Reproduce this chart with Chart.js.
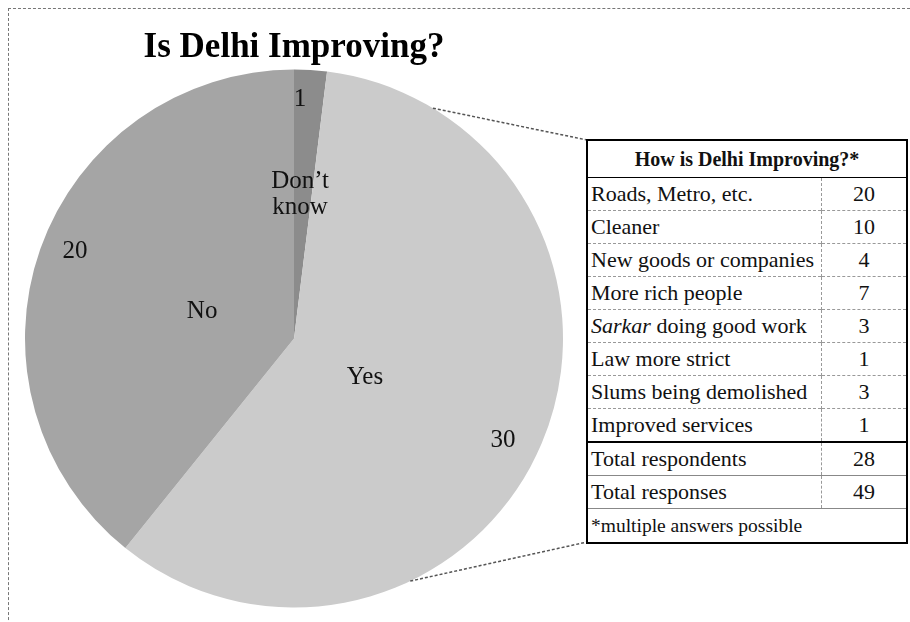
<!DOCTYPE html>
<html>
<head>
<meta charset="utf-8">
<script src="https://cdn.jsdelivr.net/npm/chart.js@4"></script>
<style>
  html, body { margin: 0; padding: 0; background: #fff; }
  #wrap { position: relative; width: 910px; height: 622px; overflow: hidden; }
  #frame { position: absolute; left: 8px; top: 8px; width: 920px; height: 640px; border: 1px dashed #777; }
  #pie { position: absolute; left: 0; top: 0; }
  #reasons {
    position: absolute; left: 586px; top: 139px; width: 322px;
    border-collapse: collapse; border: 2px solid #000;
    color: #111; background: #fff;
  }
  #reasons th, #reasons td { font-family: 'Liberation Serif', serif; }
  #reasons th { font-weight: bold; font-size: 20px; height: 34px; border-bottom: 1px solid #000; text-align: center; }
  #reasons td { font-size: 22px; height: 32px; padding: 0 0 0 3px; border-top: 1px dashed #999; white-space: nowrap; }
  #reasons td.n { text-align: center; width: 84px; padding: 0; border-left: 1px dashed #999; }
  #reasons tr.first td { border-top: 1px solid #000; }
  #reasons tr.tot td { border-top: 1px solid #888; }
  #reasons tr.tot.first td { border-top: 2px solid #000; }
  #reasons td.note { font-size: 19.5px; height: 33px; border-top: 1px solid #888; }
</style>
</head>
<body>
<div id="wrap">
  <div id="frame"></div>
  <canvas id="pie" width="910" height="622"></canvas>
  <table id="reasons"></table>
</div>
<script>
// pie
const answers = ['Don’t know', 'Yes', 'No'];
const answerCounts = [1, 30, 20];
const answerColors = ['#8c8c8c', '#cbcbcb', '#a5a5a5'];

// table
const tableTitle = 'How is Delhi Improving?*';
const reasons = ['Roads, Metro, etc.', 'Cleaner', 'New goods or companies', 'More rich people',
  'Sarkar doing good work', 'Law more strict', 'Slums being demolished', 'Improved services'];
const reasonCounts = [20, 10, 4, 7, 3, 1, 3, 1];
const totalLabels = ['Total respondents', 'Total responses'];
const totalCounts = [28, 49];
const footnote = '*multiple answers possible';

// build the table
const table = document.getElementById('reasons');
let html = `<tr><th colspan="2">${tableTitle}</th></tr>`;
reasons.forEach((r, i) => {
  const txt = r.startsWith('Sarkar') ? '<i>Sarkar</i>' + r.slice(6) : r;
  html += `<tr class="${i === 0 ? 'first' : ''}"><td>${txt}</td><td class="n">${reasonCounts[i]}</td></tr>`;
});
totalLabels.forEach((t, i) => {
  html += `<tr class="tot ${i === 0 ? 'first' : ''}"><td>${t}</td><td class="n">${totalCounts[i]}</td></tr>`;
});
html += `<tr><td class="note" colspan="2">${footnote}</td></tr>`;
table.innerHTML = html;

const serif = "'Liberation Serif', serif";

// label placement inside the slices: radius fraction and angle nudge (deg)
const labelStyle = [
  { valueR: 0.889, valueA: -2.1, nameR: 0.536, nameA: -1.1, wrap: true },
  { valueR: 0.865, valueA: 3.1, nameR: 0.301, nameA: 5.9 },
  { valueR: 0.876, valueA: 2.3, nameR: 0.356, nameA: -3.0 }
];

const sliceLabels = {
  id: 'sliceLabels',
  afterDatasetsDraw(chart) {
    const ctx = chart.ctx;
    const meta = chart.getDatasetMeta(0);
    ctx.save();
    ctx.fillStyle = '#111';
    ctx.font = '25px ' + serif;
    ctx.textAlign = 'center';
    ctx.textBaseline = 'middle';
    meta.data.forEach((arc, i) => {
      const p = arc.getProps(['x', 'y', 'startAngle', 'endAngle', 'outerRadius'], true);
      const mid = (p.startAngle + p.endAngle) / 2;
      const st = labelStyle[i];
      const va = mid + st.valueA * Math.PI / 180;
      ctx.fillText(String(answerCounts[i]),
        p.x + Math.cos(va) * p.outerRadius * st.valueR,
        p.y + Math.sin(va) * p.outerRadius * st.valueR);
      const na = mid + st.nameA * Math.PI / 180;
      const nx = p.x + Math.cos(na) * p.outerRadius * st.nameR;
      const ny = p.y + Math.sin(na) * p.outerRadius * st.nameR;
      const lines = st.wrap ? answers[i].split(' ') : [answers[i]];
      lines.forEach((ln, k) => {
        ctx.fillText(ln, nx, ny + (k - (lines.length - 1) / 2) * 26);
      });
    });
    ctx.restore();
  }
};

// dashed leader lines from the Yes slice to the table corners
const leaders = {
  id: 'leaders',
  afterDraw(chart) {
    const ctx = chart.ctx;
    const arc = chart.getDatasetMeta(0).data[1];
    const p = arc.getProps(['x', 'y', 'outerRadius'], true);
    const cv = chart.canvas.getBoundingClientRect();
    const tb = table.getBoundingClientRect();
    const ends = [
      { a: -58.9, tx: tb.left - cv.left + 1, ty: tb.top - cv.top + 1 },
      { a: 64.4, tx: tb.left - cv.left + 1, ty: tb.bottom - cv.top - 2 }
    ];
    ctx.save();
    ctx.strokeStyle = '#555';
    ctx.lineWidth = 1.5;
    ctx.setLineDash([3, 2]);
    ends.forEach(e => {
      const r = e.a * Math.PI / 180;
      ctx.beginPath();
      ctx.moveTo(p.x + Math.cos(r) * p.outerRadius, p.y + Math.sin(r) * p.outerRadius);
      ctx.lineTo(e.tx, e.ty);
      ctx.stroke();
    });
    ctx.restore();
  }
};

new Chart(document.getElementById('pie'), {
  type: 'pie',
  data: {
    labels: answers,
    datasets: [{
      data: answerCounts,
      backgroundColor: answerColors,
      borderWidth: 0
    }]
  },
  options: {
    responsive: false,
    animation: false,
    layout: { padding: { left: 25, right: 347, top: 9, bottom: 14 } },
    plugins: {
      legend: { display: false },
      tooltip: { enabled: false },
      title: {
        display: true,
        text: 'Is Delhi Improving?',
        color: '#000',
        font: { family: serif, size: 35, weight: 'bold' },
        padding: { top: 18, bottom: 0 }
      }
    }
  },
  plugins: [sliceLabels, leaders]
});
</script>
</body>
</html>
